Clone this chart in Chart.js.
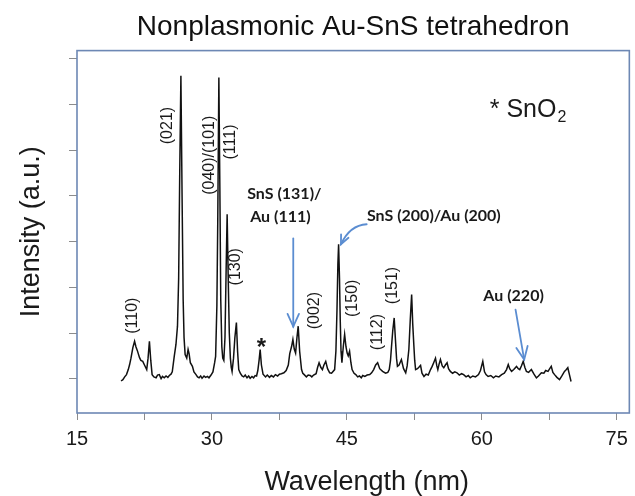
<!DOCTYPE html>
<html>
<head>
<meta charset="utf-8">
<title>Nonplasmonic Au-SnS tetrahedron</title>
<script src="https://cdn.jsdelivr.net/npm/chart.js@4.4.1/dist/chart.umd.min.js"></script>
<style>
  html, body { margin: 0; padding: 0; background: #fff; }
  #wrap { width: 635px; height: 496px; }
</style>
</head>
<body>
<div id="wrap"><canvas id="xrd"></canvas></div>
<script>
// diffraction pattern
const twoTheta = [
  19.9, 20.1, 20.3, 20.5, 20.7, 20.85, 21.0, 21.21, 21.4, 21.55, 21.7, 21.95, 22.1, 22.31, 22.5, 22.75,
  22.9, 23.05, 23.2, 23.35, 23.55, 23.79, 23.95, 24.15, 24.35, 24.5, 24.7, 24.9, 25.1, 25.26, 25.45, 25.59,
  25.81, 26.0, 26.17, 26.3, 26.42, 26.55, 26.68, 26.8, 26.9, 27.02, 27.2, 27.35, 27.46, 27.6, 27.83, 28.0,
  28.23, 28.4, 28.57, 28.75, 28.9, 29.12, 29.3, 29.5, 29.67, 29.9, 30.11, 30.3, 30.41, 30.55, 30.65, 30.77,
  30.88, 30.98, 31.1, 31.2, 31.32, 31.45, 31.58, 31.69, 31.8, 31.93, 32.05, 32.15, 32.24, 32.4, 32.55, 32.72,
  32.85, 32.98, 33.15, 33.35, 33.53, 33.7, 33.9, 34.08, 34.25, 34.45, 34.63, 34.8, 34.96, 35.1, 35.24, 35.36,
  35.5, 35.68, 35.96, 36.15, 36.4, 36.6, 36.84, 37.05, 37.3, 37.5, 37.72, 38.0, 38.25, 38.49, 38.65, 38.86,
  39.0, 39.15, 39.3, 39.45, 39.59, 39.75, 39.96, 40.1, 40.26, 40.5, 40.7, 40.92, 41.1, 41.3, 41.58, 41.75,
  41.91, 42.1, 42.28, 42.45, 42.65, 42.85, 43.09, 43.3, 43.64, 43.78, 43.9, 44.0, 44.08, 44.18, 44.26, 44.35,
  44.45, 44.6, 44.75, 44.9, 45.03, 45.15, 45.3, 45.45, 45.58, 45.8, 45.99, 46.2, 46.4, 46.6, 46.76, 47.0,
  47.25, 47.54, 47.75, 47.98, 48.2, 48.42, 48.65, 48.97, 49.3, 49.55, 49.71, 49.85, 49.96, 50.1, 50.26, 50.4,
  50.52, 50.62, 50.8, 51.06, 51.3, 51.54, 51.7, 51.89, 52.05, 52.2, 52.32, 52.44, 52.54, 52.64, 52.85, 53.0,
  53.19, 53.35, 53.57, 53.8, 54.05, 54.3, 54.48, 54.65, 54.85, 55.0, 55.11, 55.25, 55.4, 55.6, 55.77, 55.95,
  56.14, 56.3, 56.5, 56.75, 57.0, 57.24, 57.5, 57.75, 57.98, 58.25, 58.5, 58.71, 59.0, 59.3, 59.63, 59.85,
  60.11, 60.3, 60.47, 60.7, 61.0, 61.29, 61.55, 61.9, 62.2, 62.5, 62.75, 62.94, 63.1, 63.31, 63.55, 63.86,
  64.05, 64.22, 64.4, 64.6, 64.8, 64.96, 65.2, 65.51, 65.8, 66.07, 66.3, 66.62, 66.9, 67.1, 67.36, 67.55,
  67.72, 67.9, 68.09, 68.35, 68.64, 68.9, 69.19, 69.4, 69.56, 69.74, 69.92
];
const intensity = [
  0.95, 0.98, 1.04, 1.09, 1.20, 1.31, 1.45, 1.68, 1.82, 1.70, 1.62, 1.46, 1.40, 1.38, 1.30, 1.20,
  1.45, 1.82, 1.40, 1.09, 1.04, 1.02, 1.08, 1.09, 1.00, 1.05, 1.02, 1.06, 1.03, 1.07, 1.10, 1.15,
  1.49, 1.75, 2.15, 3.20, 5.50, 7.63, 5.00, 2.74, 1.90, 1.53, 1.45, 1.64, 1.55, 1.35, 1.27, 1.15,
  1.09, 1.04, 1.02, 1.06, 1.01, 1.06, 1.03, 1.05, 1.02, 1.08, 1.15, 1.35, 1.49, 2.60, 4.50, 7.59,
  5.20, 2.73, 1.70, 1.45, 1.40, 1.90, 3.40, 4.60, 3.30, 2.00, 1.45, 1.25, 1.16, 1.45, 1.90, 2.23,
  1.60, 1.20, 1.12, 1.06, 1.04, 1.08, 1.02, 1.06, 1.01, 1.05, 1.02, 1.07, 1.06, 1.18, 1.40, 1.64,
  1.30, 1.10, 1.04, 1.08, 1.03, 1.07, 1.04, 1.09, 1.06, 1.10, 1.11, 1.13, 1.18, 1.30, 1.55, 1.71,
  1.86, 1.65, 1.56, 1.90, 2.15, 1.60, 1.20, 1.12, 1.09, 1.04, 1.08, 1.07, 1.04, 1.08, 1.11, 1.25,
  1.35, 1.25, 1.20, 1.30, 1.38, 1.22, 1.13, 1.12, 1.20, 1.60, 2.50, 3.50, 3.94, 3.20, 2.30, 1.60,
  1.35, 1.70, 1.97, 1.70, 1.56, 1.50, 1.60, 1.35, 1.20, 1.12, 1.09, 1.04, 1.06, 1.02, 1.07, 1.05,
  1.08, 1.09, 1.13, 1.20, 1.30, 1.35, 1.22, 1.16, 1.12, 1.14, 1.20, 1.40, 1.70, 2.05, 2.33, 1.85,
  1.45, 1.27, 1.30, 1.42, 1.22, 1.13, 1.28, 1.64, 2.30, 2.84, 2.20, 1.75, 1.40, 1.20, 1.22, 1.25,
  1.29, 1.12, 1.05, 1.10, 1.08, 1.20, 1.27, 1.35, 1.45, 1.28, 1.20, 1.32, 1.42, 1.28, 1.24, 1.30,
  1.35, 1.22, 1.16, 1.12, 1.15, 1.13, 1.08, 1.11, 1.09, 1.04, 1.07, 1.02, 1.06, 1.04, 1.09, 1.18,
  1.38, 1.15, 1.09, 1.05, 1.07, 1.02, 1.06, 1.04, 1.09, 1.12, 1.20, 1.31, 1.22, 1.16, 1.20, 1.27,
  1.22, 1.20, 1.28, 1.38, 1.24, 1.16, 1.14, 1.20, 1.10, 1.02, 1.06, 1.13, 1.12, 1.18, 1.16, 1.22,
  1.27, 1.14, 1.09, 1.03, 0.98, 1.06, 1.16, 1.20, 1.24, 1.09, 0.94
];
const xTicks = [15, 22.5, 30, 37.5, 45, 52.5, 60, 67.5, 75];
const yTicks = [1, 2, 3, 4, 5, 6, 7, 8];

// peak indices, written upright along the peaks
const planeLabels = [
  { text: '(110)', x: 21.21, y: 2.38 },
  { text: '(021)', x: 25.07, y: 6.54 },
  { text: '(040)/(101)', x: 29.75, y: 5.89 },
  { text: '(111)', x: 32.06, y: 6.18 },
  { text: '(130)', x: 32.61, y: 3.45 },
  { text: '(002)', x: 41.43, y: 2.49 },
  { text: '(150)', x: 45.66, y: 2.76 },
  { text: '(112)', x: 48.42, y: 2.02 },
  { text: '(151)', x: 50.07, y: 3.04 }
];
const phaseLabels = [
  { text: 'SnS (131)/', x: 38.05, y: 4.93 },
  { text: 'Au (111)', x: 37.61, y: 4.44 },
  { text: 'SnS (200)/Au (200)', x: 54.67, y: 4.45 },
  { text: 'Au (220)', x: 63.53, y: 2.69 }
];
// arrows: from -> (bend) -> tip
const arrows = [
  { from: [39.04, 4.07], tip: [39.04, 2.14] },
  { from: [47.2, 4.38], bend: [45.33, 4.36], tip: [44.34, 3.94] },
  { from: [63.75, 2.51], tip: [64.71, 1.42] }
];
const sno2Peak = { x: 35.51, y: 1.53 };
const legendAt = { x: 60.88, y: 6.73 };
const xTitleAt = 47.2;

const sans = "'Liberation Sans', Arial, sans-serif";
const frameColor = '#6d88b4';
const arrowColor = '#5b8dd1';

let drawArrowHead = (ctx, tx, ty, fx, fy, len) => {
    let ang = Math.atan2(ty - fy, tx - fx);
    let spread = 0.42;
    ctx.beginPath();
    ctx.moveTo(tx - len * Math.cos(ang - spread), ty - len * Math.sin(ang - spread));
    ctx.lineTo(tx, ty);
    ctx.lineTo(tx - len * Math.cos(ang + spread), ty - len * Math.sin(ang + spread));
    ctx.stroke();
}

const notesPlugin = {
    id: 'notes',
    afterDraw(chart) {
        const { ctx, chartArea: a, scales: { x, y } } = chart;
        ctx.save();

        // frame round the plot
        ctx.strokeStyle = frameColor;
        ctx.lineWidth = 1.6;
        ctx.strokeRect(a.left, a.top, a.right - a.left, a.bottom - a.top);

        // rotated plane labels
        ctx.fillStyle = '#1a1a1a';
        ctx.font = '16px ' + sans;
        ctx.textAlign = 'center';
        ctx.textBaseline = 'middle';
        planeLabels.forEach(l => {
            ctx.save();
            ctx.translate(x.getPixelForValue(l.x), y.getPixelForValue(l.y));
            ctx.rotate(-Math.PI / 2);
            ctx.fillText(l.text, 0, 0);
            ctx.restore();
        });

        // phase labels
        ctx.font = "bold 16px Lato, 'Liberation Sans', sans-serif";
        ctx.textBaseline = 'alphabetic';
        phaseLabels.forEach(l => {
            ctx.fillText(l.text, x.getPixelForValue(l.x), y.getPixelForValue(l.y));
        });

        // SnO2 marker
        ctx.font = 'bold 24px ' + sans;
        ctx.fillText('*', x.getPixelForValue(sno2Peak.x), y.getPixelForValue(sno2Peak.y));

        // legend "* SnO2"
        ctx.textAlign = 'left';
        ctx.font = '25px ' + sans;
        let lx = x.getPixelForValue(legendAt.x);
        let ly = y.getPixelForValue(legendAt.y);
        ctx.fillText('* SnO', lx, ly);
        let w = ctx.measureText('* SnO').width;
        ctx.font = '16px ' + sans;
        ctx.fillText('2', lx + w + 1, ly + 5);

        // arrows
        ctx.strokeStyle = arrowColor;
        ctx.lineWidth = 1.8;
        ctx.lineCap = 'round';
        arrows.forEach(ar => {
            let fx = x.getPixelForValue(ar.from[0]), fy = y.getPixelForValue(ar.from[1]);
            let tx = x.getPixelForValue(ar.tip[0]), ty = y.getPixelForValue(ar.tip[1]);
            ctx.beginPath();
            ctx.moveTo(fx, fy);
            let bx = fx, by = fy;
            if (ar.bend) {
                bx = x.getPixelForValue(ar.bend[0]);
                by = y.getPixelForValue(ar.bend[1]);
                ctx.quadraticCurveTo(bx, by, tx, ty);
            } else {
                ctx.lineTo(tx, ty);
            }
            ctx.stroke();
            drawArrowHead(ctx, tx, ty, bx, by, ar.bend ? 10 : 14);
        });

        // x axis title
        ctx.fillStyle = '#1a1a1a';
        ctx.font = '27px ' + sans;
        ctx.textAlign = 'center';
        ctx.textBaseline = 'alphabetic';
        ctx.fillText('Wavelength (nm)', x.getPixelForValue(xTitleAt), 490);

        ctx.restore();
    }
};

new Chart('xrd', {
    type: 'line',
    data: {
        datasets: [{
            data: twoTheta.map((t, i) => ({ x: t, y: intensity[i] })),
            borderColor: '#111',
            borderWidth: 1.5,
            pointRadius: 0,
            tension: 0,
            fill: false
        }]
    },
    options: {
        responsive: true,
        maintainAspectRatio: false,
        animation: false,
        events: [],
        layout: { padding: { top: 0, right: 1, bottom: 0, left: 0 } },
        plugins: {
            legend: { display: false },
            tooltip: { enabled: false },
            title: {
                display: true,
                text: 'Nonplasmonic Au-SnS tetrahedron',
                fullSize: false,
                color: '#111',
                font: { family: sans, size: 28, weight: 'normal' },
                padding: { top: 10, bottom: 7 }
            }
        },
        scales: {
            x: {
                type: 'linear',
                min: 15,
                max: 76.4,
                afterBuildTicks: s => { s.ticks = xTicks.map(v => ({ value: v })); },
                afterFit: s => { s.height = 83; },
                border: { display: false },
                grid: { drawOnChartArea: false, drawTicks: true, tickLength: 7, color: '#8c8c8c' },
                ticks: {
                    autoSkip: false,
                    maxRotation: 0,
                    padding: 7,
                    color: '#1a1a1a',
                    font: { family: sans, size: 20 },
                    callback: v => (v % 15 === 0 ? v : '')
                }
            },
            y: {
                min: 0.25,
                max: 8.18,
                afterBuildTicks: s => { s.ticks = yTicks.map(v => ({ value: v })); },
                afterFit: s => { s.width = 77; },
                border: { display: false },
                grid: { drawOnChartArea: false, drawTicks: true, tickLength: 8, color: '#8c8c8c' },
                ticks: { display: false },
                title: {
                    display: true,
                    text: 'Intensity (a.u.)',
                    color: '#1a1a1a',
                    font: { family: sans, size: 27 },
                    padding: { top: 15, bottom: 0 }
                }
            }
        }
    },
    plugins: [notesPlugin]
});
</script>
</body>
</html>
